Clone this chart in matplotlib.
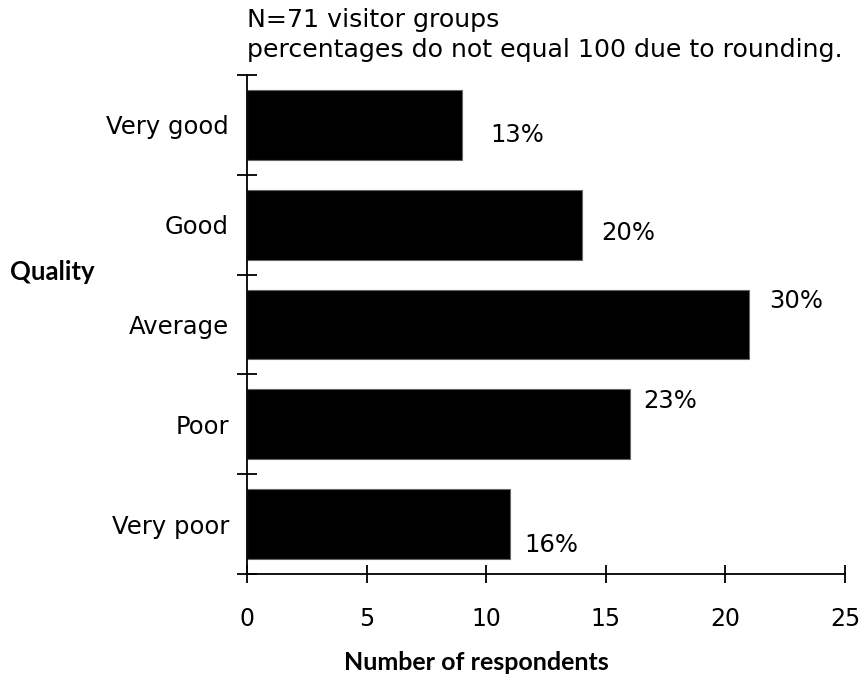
import numpy as np
import matplotlib
matplotlib.use('Agg')
import matplotlib.pyplot as plt
from matplotlib.ticker import FixedLocator, NullFormatter

# ------------------------ Dados ------------------------
categorias = ['Very good', 'Good', 'Average', 'Poor', 'Very poor']
respondentes = [9, 14, 21, 16, 11]
percentuais = ['13%', '20%', '30%', '23%', '16%']
xticks = [0, 5, 10, 15, 20, 25]

# deslocamento dos rotulos (pontos), como no original
desloc = [(20, -7), (14, -6), (14, 17), (10, 17), (10, -15)]

# ------------------------ Figura ------------------------
fig = plt.figure(figsize=(8.66, 6.76), dpi=100)
ax = fig.add_axes([247/866, 1 - 574/676, (845-247)/866, (574-75)/676])

ypos = np.arange(len(categorias))[::-1]
ax.barh(ypos, respondentes, height=0.7, color='black',
        edgecolor='#666666', linewidth=0.8)

for y, v, p, (dx, dy) in zip(ypos, respondentes, percentuais, desloc):
    ax.annotate(p, (v, y), xytext=(dx, dy), textcoords='offset points',
                ha='left', va='center', fontsize=17.5, color='black')

ax.set_xlim(0, 25)
ax.set_ylim(-0.5, 4.5)

# ticks do eixo x
ax.set_xticks(xticks)
ax.tick_params(axis='x', direction='inout', length=13, width=1.3,
               labelsize=17, pad=17)

# ticks do eixo y nas fronteiras das categorias, rotulos no centro
ax.yaxis.set_major_locator(FixedLocator(np.arange(-0.5, 5, 1)))
ax.yaxis.set_major_formatter(NullFormatter())
ax.yaxis.set_minor_locator(FixedLocator(ypos))
ax.set_yticklabels(categorias, minor=True)
ax.tick_params(axis='y', which='major', direction='inout', length=14, width=1.3)
ax.tick_params(axis='y', which='minor', length=0, labelsize=17.5, pad=13)

for s in ['top', 'right']:
    ax.spines[s].set_visible(False)
for s in ['left', 'bottom']:
    ax.spines[s].set_linewidth(1.3)

# ------------------------ Textos ------------------------
fig.text(247/866, 1 - 20/676, 'N=71 visitor groups', fontsize=18.2,
         ha='left', va='center')
fig.text(247/866, 1 - 50/676, 'percentages do not equal 100 due to rounding.',
         fontsize=18.2, ha='left', va='center')
fig.text(10/866, 1 - 272/676, 'Quality', family='Lato', fontsize=18.5,
         fontweight='bold', ha='left', va='center')
fig.text(476/866, 1 - 662/676, 'Number of respondents', family='Lato',
         fontsize=18, fontweight='bold', ha='center', va='center')

fig.savefig('out.png', dpi=100)
